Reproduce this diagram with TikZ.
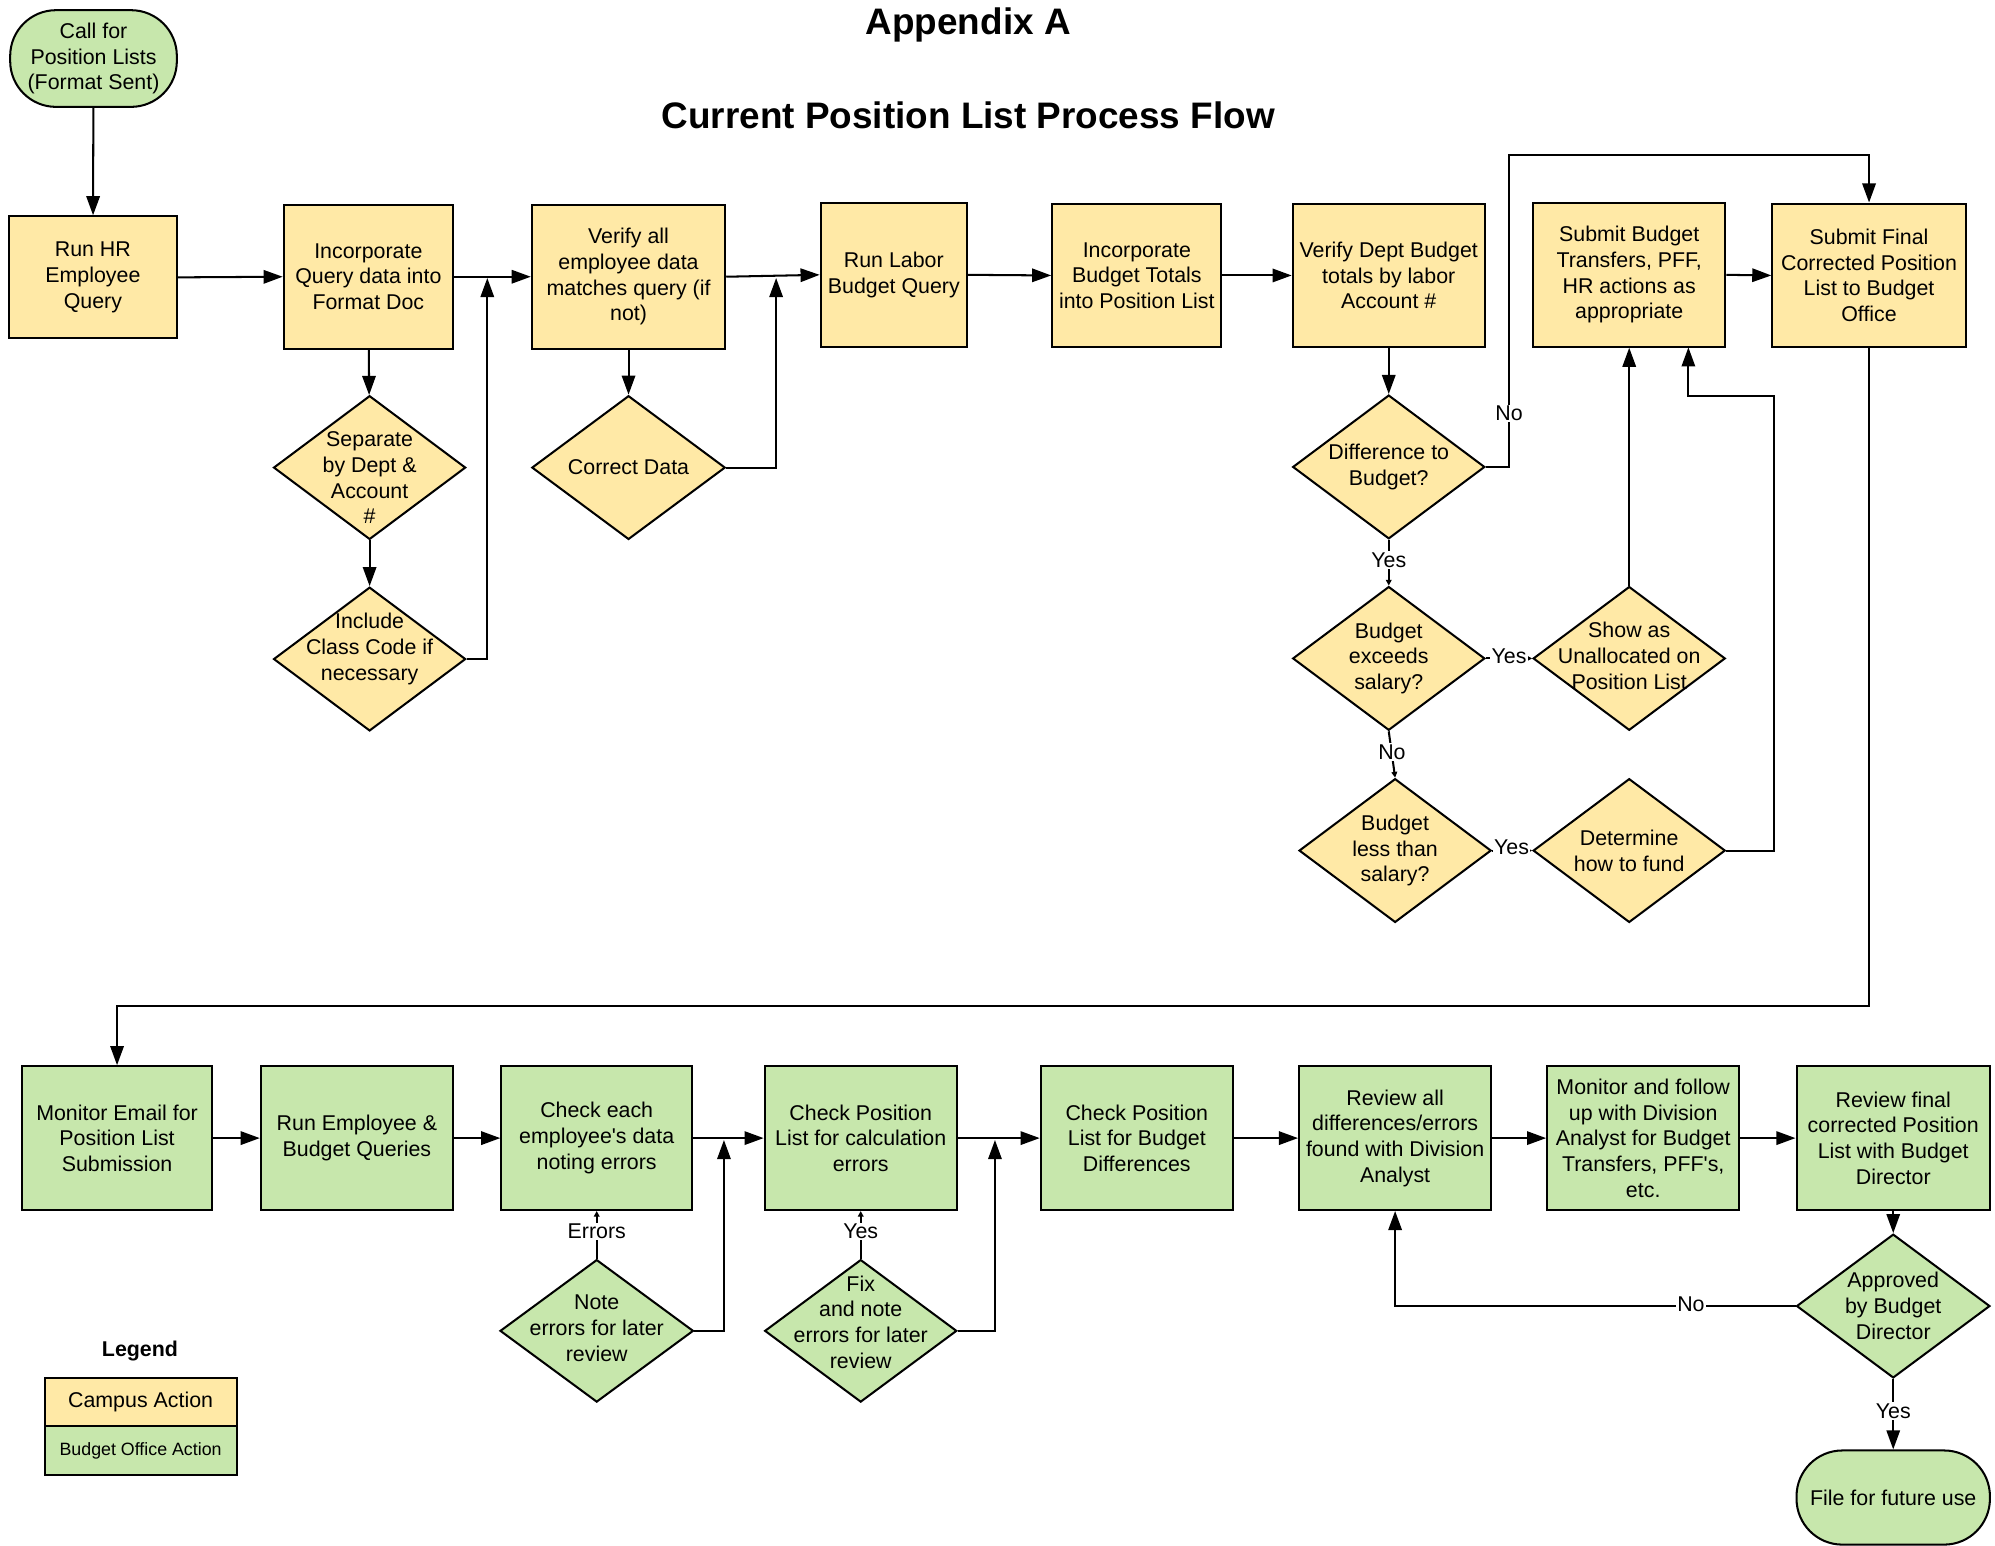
\documentclass[tikz,border=0pt]{standalone}
\usepackage{fontspec}
\setmainfont{Liberation Sans}[Ligatures=TeXOff]
\usetikzlibrary{shapes.geometric,arrows.meta}
\definecolor{campc}{HTML}{FFE9A6}
\definecolor{budc}{HTML}{C7E7AC}
\newcommand\bodyfnt{\fontsize{16.8}{20.2}\selectfont}
\newcommand\legfnt{\fontsize{14}{17}\selectfont}
\newcommand\ttlfnt{\fontsize{29}{35}\selectfont\bfseries}
\begin{document}
\begin{tikzpicture}[x=1pt,y=-1pt,
  every node/.style={font=\bodyfnt},
  pbox/.style={draw=black, line width=1.6pt, rectangle, align=center, inner sep=1pt, minimum height=113pt},
  term/.style={draw=black, line width=1.6pt, rectangle, rounded corners=36pt, align=center, inner sep=1pt, fill=budc},
  dia/.style={draw=black, line width=1.6pt, diamond, inner sep=0pt, minimum width=151pt, minimum height=113pt},
  dtxt/.style={align=center, font=\bodyfnt, inner sep=0pt},
  camp/.style={fill=campc},
  bud/.style={fill=budc},
  conn/.style={line width=1.6pt, draw=black},
  arr/.style={conn, -{Triangle[length=15pt,width=10.5pt]}},
  sarr/.style={conn, -{Triangle[length=4.5pt,width=4.5pt]}},
  lab/.style={fill=white, inner sep=1pt, font=\bodyfnt},
]
\useasboundingbox (0,0) rectangle (1568,1215);
\fill[white] (0,0) rectangle (1568,1215);

% titles
\node[font=\ttlfnt] (t1) at (761,20) {Appendix A};
\node[font=\ttlfnt] (t2) at (761,91) {Current Position List Process Flow};

% top row
\node[term, minimum width=131pt, minimum height=76pt] (start) at (73.5,46) {Call for\\Position Lists\\(Format Sent)};
\node[pbox, camp, minimum width=132pt, minimum height=96pt] (runHR) at (73,218) {Run HR\\Employee\\Query};
\node[pbox, camp, minimum width=133pt] (incQ) at (289.5,217.5) {Incorporate\\Query data into\\Format Doc};
\node[pbox, camp, minimum width=152pt] (verify) at (494,217.5) {Verify all\\employee data\\matches query (if\\not)};
\node[pbox, camp, minimum width=115pt] (labor) at (702.5,216) {Run Labor\\Budget Query};
\node[pbox, camp, minimum width=133pt] (incB) at (893.5,216.5) {Incorporate\\Budget Totals\\into Position List};
\node[pbox, camp, minimum width=151pt] (vDept) at (1091.5,216.5) {Verify Dept Budget\\totals by labor\\Account \#};
\node[pbox, camp, minimum width=151pt] (subBT) at (1280.5,216) {Submit Budget\\Transfers, PFF,\\HR actions as\\appropriate};
\node[pbox, camp, minimum width=152pt] (subF) at (1469,216.5) {Submit Final\\Corrected Position\\List to Budget\\Office};

% top diamonds
\node[dia, camp, label={[dtxt, yshift=-8pt]center:Separate\\by Dept \&\\Account\\\#}] (sep) at (290.5,367.5) {};
\node[dia, camp, label={[dtxt, yshift=8pt]center:Include\\Class Code if\\necessary}] (incl) at (290.5,518) {};
\node[dia, camp, minimum width=152pt, label={[dtxt]center:Correct Data}] (correct) at (494,367.5) {};
\node[dia, camp, label={[dtxt]center:Difference to\\Budget?}] (diff) at (1091.5,367) {};
\node[dia, camp, label={[dtxt]center:Budget\\exceeds\\salary?}] (exceeds) at (1091.5,517.5) {};
\node[dia, camp, label={[dtxt]center:Budget\\less than\\salary?}] (less) at (1096.5,668.5) {};
\node[dia, camp, label={[dtxt, yshift=2pt]center:Show as\\Unallocated on\\Position List}] (show) at (1280.5,517.5) {};
\node[dia, camp, label={[dtxt]center:Determine\\how to fund}] (determine) at (1280.5,668.5) {};

% bottom row
\node[pbox, bud, minimum width=150pt] (monitor) at (92,894.5) {Monitor Email for\\Position List\\Submission};
\node[pbox, bud, minimum width=151pt] (runEmp) at (280.5,894.5) {Run Employee \&\\Budget Queries};
\node[pbox, bud, minimum width=150pt] (checkEach) at (469,894.5) {Check each\\employee's data\\noting errors};
\node[pbox, bud, minimum width=151pt] (checkPos) at (676.5,894.5) {Check Position\\List for calculation\\errors};
\node[pbox, bud, minimum width=151pt] (checkBud) at (893.5,894.5) {Check Position\\List for Budget\\Differences};
\node[pbox, bud, minimum width=151pt] (review) at (1096.5,894.5) {Review all\\differences/errors\\found with Division\\Analyst};
\node[pbox, bud, minimum width=151pt] (monitorF) at (1291.5,894.5) {Monitor and follow\\up with Division\\Analyst for Budget\\Transfers, PFF's,\\etc.};
\node[pbox, bud, minimum width=152pt] (reviewF) at (1488,894.5) {Review final\\corrected Position\\List with Budget\\Director};

% bottom diamonds
\node[dia, bud, minimum width=152pt, minimum height=112pt, label={[dtxt, yshift=2pt]center:Note\\errors for later\\review}] (note) at (469,1046) {};
\node[dia, bud, minimum height=112pt, label={[dtxt, yshift=7pt]center:Fix\\and note\\errors for later\\review}] (fix) at (676.5,1046) {};
\node[dia, bud, minimum width=152pt, label={[dtxt]center:Approved\\by Budget\\Director}] (approved) at (1488,1026.5) {};
\node[term, minimum width=152pt, minimum height=74pt] (file) at (1488,1177) {File for future use};

% legend
\node[font=\bodyfnt\bfseries] (leg) at (110,1062) {Legend};
\node[pbox, camp, minimum width=151pt, minimum height=38pt] (legA) at (110.5,1102) {Campus Action};
\node[pbox, bud, minimum width=151pt, minimum height=38pt, font=\legfnt] (legB) at (110.5,1140) {Budget Office Action};

% junction coordinates
\coordinate (j1) at (383,218.5);
\coordinate (j2) at (610,218.5);
\coordinate (n1) at (1186,122);
\coordinate (d1) at (1394,311);
\coordinate (d2) at (1327,273);
\coordinate (r1) at (1469,791);
\coordinate (r2) at (92,791);
\coordinate (j3) at (569,896);
\coordinate (j4) at (782,896);

% top connectors
\draw[arr] (start) -- (runHR);
\draw[arr] (runHR.east) -- (incQ.west);
\draw[arr] (incQ.east) -- (verify.west);
\draw[arr] (verify.east) -- (labor.west);
\draw[arr] (labor.east) -- (incB.west);
\draw[arr] (incB.east) -- (vDept.west);
\draw[arr] (subBT.east) -- (subF.west);
\draw[arr] (incQ) -- (sep);
\draw[arr] (sep) -- (incl);
\draw[arr] (incl.east) -| (j1);
\draw[arr] (verify) -- (correct);
\draw[arr] (correct.east) -| (j2);
\draw[arr] (vDept) -- (diff);
\draw[arr] (diff.east) -| (n1) -| (subF.north);
\node[lab] (lNo1) at (1186,325) {No};
\draw[sarr] (diff.south) -- (exceeds.north);
\node[lab] (lYes1) at (1091.5,440) {Yes};
\draw[sarr] (exceeds.east) -- (show.west);
\node[lab] (lYes2) at (1186,516) {Yes};
\draw[sarr] (exceeds.south) -- (less.north);
\node[lab] (lNo2) at (1094,591) {No};
\draw[sarr] (less.east) -- (determine.west);
\node[lab] (lYes3) at (1188,666) {Yes};
\draw[arr] (show.north) -- (subBT.south);
\draw[arr] (determine.east) -| (d1) -| (d2);
\draw[arr] (subF.south) -- (r1) -- (r2) -- (monitor.north);

% bottom connectors
\draw[arr] (monitor.east) -- (runEmp.west);
\draw[arr] (runEmp.east) -- (checkEach.west);
\draw[arr] (checkEach.east) -- (checkPos.west);
\draw[arr] (checkPos.east) -- (checkBud.west);
\draw[arr] (checkBud.east) -- (review.west);
\draw[arr] (review.east) -- (monitorF.west);
\draw[arr] (monitorF.east) -- (reviewF.west);
\draw[sarr] (note.north) -- (checkEach.south);
\node[lab] (lErr) at (469,968) {Errors};
\draw[arr] (note.east) -| (j3);
\draw[sarr] (fix.north) -- (checkPos.south);
\node[lab] (lYes4) at (676.5,968) {Yes};
\draw[arr] (fix.east) -| (j4);
\draw[arr] (reviewF) -- (approved);
\draw[arr] (approved.west) -| (review.south);
\node[lab] (lNo3) at (1329,1025) {No};
\draw[arr] (approved.south) -- (file.north);
\node[lab] (lYes5) at (1488,1109) {Yes};
\end{tikzpicture}
\end{document}
